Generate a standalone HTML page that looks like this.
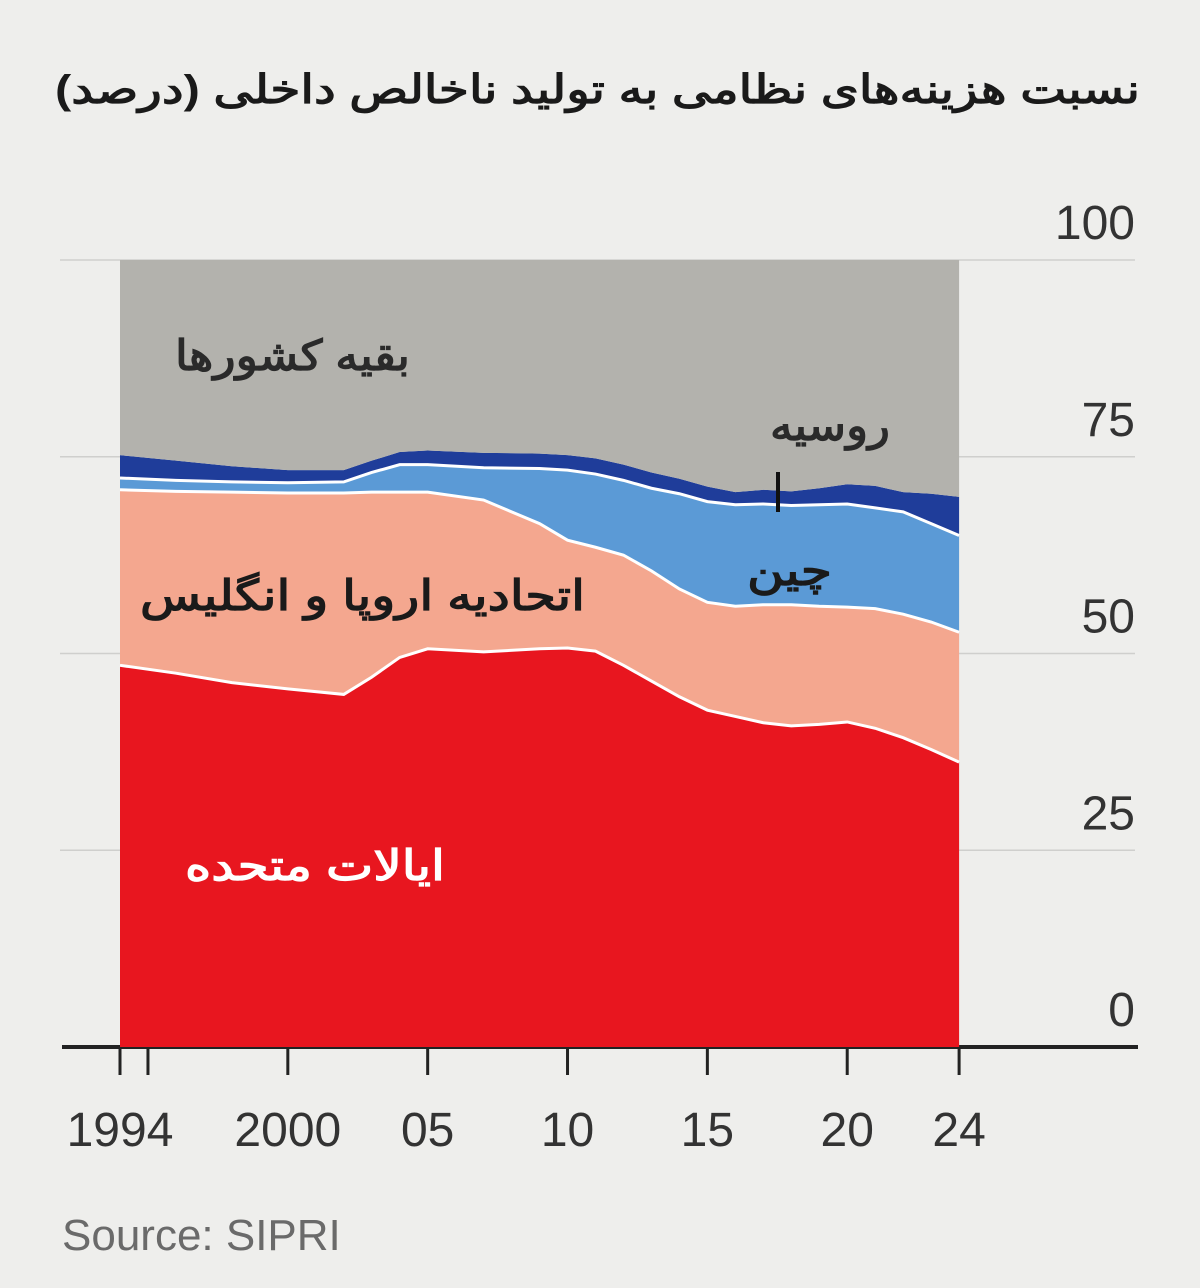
<!DOCTYPE html>
<html><head><meta charset="utf-8"><style>
body{margin:0;background:#eeeeec;width:1200px;height:1288px;overflow:hidden;font-family:"Liberation Sans","Noto Sans CJK SC",sans-serif}
svg{position:absolute;left:0;top:0}
</style></head><body>
<svg width="1200" height="1288">
<text x="1140" y="103" text-anchor="start" direction="rtl" font-size="40" font-weight="bold" fill="#1a1a1a" textLength="1085" lengthAdjust="spacingAndGlyphs">نسبت هزینه‌های نظامی به تولید ناخالص داخلی (درصد)</text>
<g id="grid"></g>
<g id="areas"></g>
<g id="labels"></g>
<text x="62" y="1250" font-size="44" fill="#6a6a6a">Source: SIPRI</text>
</svg>
<script>
const years=[1994,1996,1998,2000,2002,2003,2004,2005,2007,2009,2010,2011,2012,2013,2014,2015,2016,2017,2018,2019,2020,2021,2022,2023,2024];
const usTop=[48.5,47.5,46.3,45.5,44.8,47,49.5,50.6,50.2,50.6,50.7,50.3,48.5,46.5,44.5,42.8,42,41.2,40.8,41,41.3,40.5,39.3,37.8,36.2];
const euTop=[70.8,70.6,70.5,70.4,70.4,70.5,70.5,70.5,69.5,66.5,64.4,63.5,62.5,60.5,58.2,56.5,56,56.2,56.2,56,55.9,55.7,55,54,52.7];
const chinaTop=[72.3,72.0,71.8,71.7,71.8,73,74,74,73.6,73.5,73.3,72.8,72,71,70.3,69.3,68.9,69,68.8,68.9,69,68.5,68,66.5,65];
const russiaTop=[75.2,74.5,73.8,73.3,73.3,74.5,75.6,75.8,75.5,75.4,75.2,74.8,74,73,72.2,71.2,70.5,70.8,70.6,71,71.5,71.3,70.5,70.3,69.9];
const restTop=years.map(()=>100);
const yTicks=[0,25,50,75,100];
const xTicks=[1994,1995,2000,2005,2010,2015,2020,2024];
const xTickLabels=["1994","","2000","05","10","15","20","24"];
const NS="http://www.w3.org/2000/svg";
const X=y=>120+(y-1994)*27.97;
const Y=v=>1047-v*7.87;
function mk(tag,attrs,parent){const e=document.createElementNS(NS,tag);for(const k in attrs)e.setAttribute(k,attrs[k]);parent.appendChild(e);return e;}
const grid=document.getElementById('grid'),areas=document.getElementById('areas'),labels=document.getElementById('labels');
yTicks.forEach(t=>{
 if(t>0){const l=mk('line',{x1:60,x2:1135,y1:Y(t),y2:Y(t),stroke:'#cfcfcd','stroke-width':1.5},grid);
 
 }
 const tx=mk('text',{x:1135,y:Y(t)-21,'text-anchor':'end','font-size':48,fill:'#333'},grid);
 tx.textContent=t;
 
 
});
const layers=[[null,usTop,'#e8161f','us-area'],[usTop,euTop,'#f4a78f','eu-uk-area'],[euTop,chinaTop,'#5b9ad6','china-area'],[chinaTop,russiaTop,'#1f3d9a','russia-area'],[russiaTop,restTop,'#b3b2ad','rest-area']];
layers.forEach(([lo,hi,c,n])=>{
 let d='M'+years.map((y,i)=>X(y)+','+Y(hi[i])).join('L');
 for(let i=years.length-1;i>=0;i--)d+='L'+X(years[i])+','+Y(lo?lo[i]:0);
 const p=mk('path',{d:d+'Z',fill:c},areas);
 
 
});
[usTop,euTop,chinaTop].forEach((s,k)=>{
 const p=mk('path',{d:'M'+years.map((y,i)=>X(y)+','+Y(s[i])).join('L'),fill:'none',stroke:'#fff','stroke-width':3},areas);
 
 
});
const ax=mk('line',{x1:62,x2:1138,y1:1047,y2:1047,stroke:'#222','stroke-width':4},grid);


xTicks.forEach((t,i)=>{
 const l=mk('line',{x1:X(t),x2:X(t),y1:1047,y2:1075,stroke:'#222','stroke-width':3},grid);
 
 
 if(xTickLabels[i]){const tx=mk('text',{x:X(t),y:1146,'text-anchor':'middle','font-size':48,fill:'#333'},grid);
 tx.textContent=xTickLabels[i];
 
 }
});
const L=[["بقیه کشورها",410,370,'#2a2a2a','label-rest',235],["روسیه",890,440,'#2a2a2a','label-russia',120],["چین",832,585,'#1a1a1a','label-china',85],["اتحادیه اروپا و انگلیس",585,610,'#1a1a1a','label-eu-uk',445],["ایالات متحده",445,880,'#ffffff','label-us',260]];
L.forEach(([t,x,y,c,n,w])=>{const tx=mk('text',{x:x,y:y,'text-anchor':'start',direction:'rtl','font-size':42,'font-weight':'bold',fill:c,textLength:w,lengthAdjust:'spacingAndGlyphs'},labels);
 tx.textContent=t;
 
 });
const pl=mk('line',{x1:778,x2:778,y1:472,y2:512,stroke:'#111','stroke-width':4},labels);


</script>
</body></html>
